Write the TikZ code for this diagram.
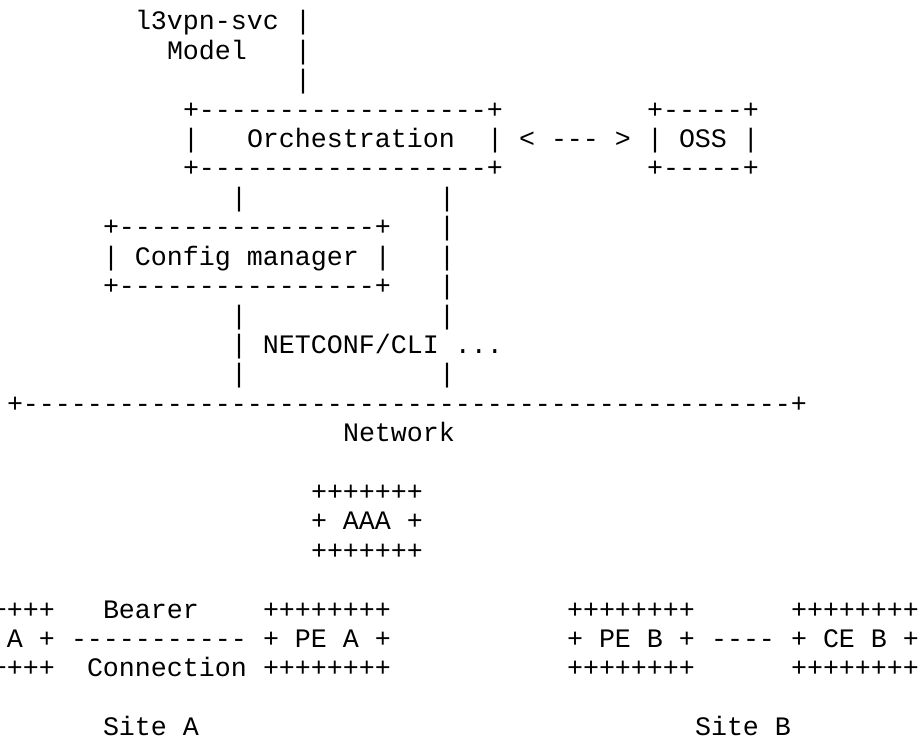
\documentclass[tikz,border=0pt]{standalone}
\usepackage{fontspec}
\setmonofont{Liberation Mono}

\tikzset{ascii/.style={anchor=base west,inner sep=0pt,outer sep=0pt,
    font=\ttfamily\fontsize{13.33pt}{16pt}\selectfont}}

\begin{document}
\begin{tikzpicture}[x=8pt,y=-14.7pt]
      \useasboundingbox (0pt,0pt) rectangle (460pt,-369pt);
      \fill[white] (0pt,0pt) rectangle (460pt,-369pt);
      \clip (0pt,0pt) rectangle (460pt,-369pt);

      \begin{scope}[shift={(3.5pt,-15pt)}]
      %%%%%%%%%%%%%%%%%%%%%%%%%%%%%%%%%%%%%%%%%%%%%%%%%%%%%%%%%%%%%%%%%%%%%%%%%%%
      %%%%  Service model and orchestration
      \node[ascii] (svc) at (8,0) {l3vpn-svc};
      \node[ascii] (model) at (10,1) {Model};
      \foreach \r in {0,1,2}
       {\node[ascii] (svcbar\r) at (18,\r) {|};};

      \foreach \r/\n in {3/top,5/bot}
       {\node[ascii] (orch\n) at (11,\r) {+------------------+};
        \node[ascii] (oss\n) at (40,\r) {+-----+};};
      \node[ascii] (orchl) at (11,4) {|};
      \node[ascii] (orch) at (15,4) {Orchestration};
      \node[ascii] (orchr) at (30,4) {|};
      \node[ascii] (ossarrow) at (32,4) {< --- >};
      \node[ascii] (oss) at (40,4) {| OSS |};

      %%%%%%%%%%%%%%%%%%%%%%%%%%%%%%%%%%%%%%%%%%%%%%%%%%%%%%%%%%%%%%%%%%%%%%%%%%%
      %%%%  Config manager
      \foreach \r in {6,10,12}
       {\node[ascii] (cfgbar\r) at (14,\r) {|};};
      \foreach \r in {6,7,8,9,10,12}
       {\node[ascii] (orchbar\r) at (27,\r) {|};};
      \foreach \r/\n in {7/top,9/bot}
       {\node[ascii] (cfg\n) at (6,\r) {+----------------+};};
      \node[ascii] (cfg) at (6,8) {| Config manager |};
      \node[ascii] (netconf) at (14,11) {| NETCONF/CLI ...};

      %%%%%%%%%%%%%%%%%%%%%%%%%%%%%%%%%%%%%%%%%%%%%%%%%%%%%%%%%%%%%%%%%%%%%%%%%%%
      %%%%  Network
      \node[ascii] (netline) at (0,13)
        {+------------------------------------------------+};
      \node[ascii] (net) at (21,14) {Network};

      \foreach \r/\n in {16/top,18/bot}
       {\node[ascii] (aaa\n) at (19,\r) {+++++++};};
      \node[ascii] (aaa) at (19,17) {+ AAA +};

      %%%%%%%%%%%%%%%%%%%%%%%%%%%%%%%%%%%%%%%%%%%%%%%%%%%%%%%%%%%%%%%%%%%%%%%%%%%
      %%%%  Sites
      \foreach \c/\n in {-5/cea,16/pea,35/peb,49/ceb}
       {\node[ascii] (\n top) at (\c,20) {++++++++};
        \node[ascii] (\n bot) at (\c,22) {++++++++};};
      \node[ascii] (cea) at (-5,21) {+ CE A +};
      \node[ascii] (pea) at (16,21) {+ PE A +};
      \node[ascii] (peb) at (35,21) {+ PE B +};
      \node[ascii] (ceb) at (49,21) {+ CE B +};

      \node[ascii] (bearer) at (6,20) {Bearer};
      \node[ascii] (bearerlink) at (4,21) {-----------};
      \node[ascii] (connection) at (5,22) {Connection};
      \node[ascii] (blink) at (44,21) {----};

      \node[ascii] (sitea) at (6,24) {Site A};
      \node[ascii] (siteb) at (43,24) {Site B};
      \end{scope}
    \end{tikzpicture}
\end{document}
